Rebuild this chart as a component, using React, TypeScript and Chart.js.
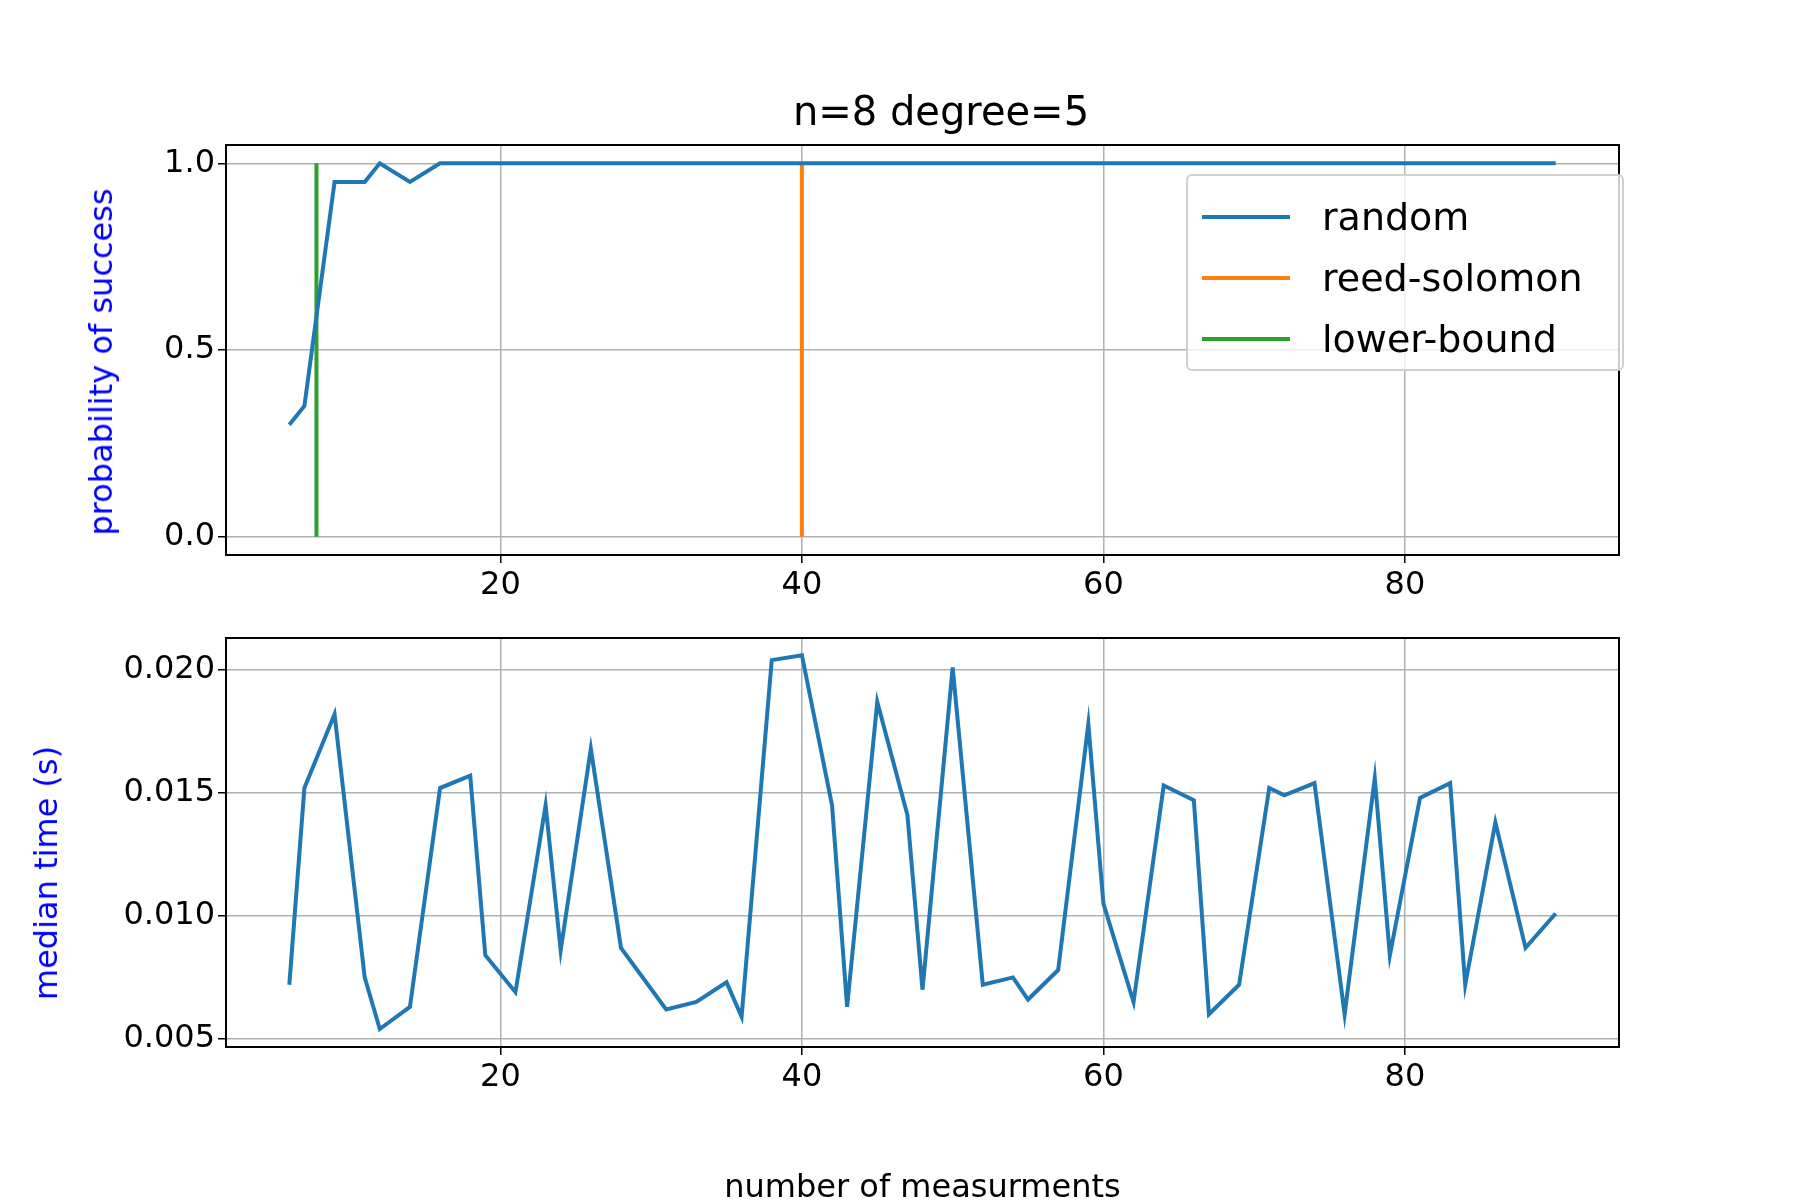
import { useEffect, useRef } from 'react'
import { Chart, registerables } from 'chart.js'

Chart.register(...registerables)

const measurements = [6, 7, 9, 11, 12, 14, 16, 18, 19, 21, 23, 24, 26, 28, 31, 33, 35, 36, 38, 40, 42, 43, 45, 47, 48, 50, 52, 54, 55, 57, 59, 60, 62, 64, 66, 67, 69, 71, 72, 74, 76, 78, 79, 81, 83, 84, 86, 88, 90]
const successProb = [0.3, 0.35, 0.95, 0.95, 1, 0.95, 1, 1, 1, 1, 1, 1, 1, 1, 1, 1, 1, 1, 1, 1, 1, 1, 1, 1, 1, 1, 1, 1, 1, 1, 1, 1, 1, 1, 1, 1, 1, 1, 1, 1, 1, 1, 1, 1, 1, 1, 1, 1, 1]
const medianTime = [0.0072, 0.0152, 0.0182, 0.0075, 0.0054, 0.0063, 0.0152, 0.0157, 0.0084, 0.0069, 0.0145, 0.0086, 0.0168, 0.0087, 0.0062, 0.0065, 0.0073, 0.0059, 0.0204, 0.0206, 0.0145, 0.0063, 0.0187, 0.0141, 0.007, 0.0201, 0.0072, 0.0075, 0.0066, 0.0078, 0.0178, 0.0105, 0.0065, 0.0153, 0.0147, 0.006, 0.0072, 0.0152, 0.0149, 0.0154, 0.006, 0.0156, 0.0084, 0.0148, 0.0154, 0.0072, 0.0138, 0.0087, 0.0101]
const reedSolomonX = 40
const lowerBoundX = 7.8
const xTicks = [20, 40, 60, 80]
const probTicks = [0, 0.5, 1]
const timeTicks = [0.005, 0.01, 0.015, 0.02]

const FONT = "'DejaVu Sans', sans-serif"
const BLUE = '#1f77b4'

const frame = {
  id: 'frame',
  afterDraw(chart: Chart) {
    const { ctx, chartArea: a } = chart
    ctx.save()
    ctx.strokeStyle = '#000'
    ctx.lineWidth = 2
    ctx.strokeRect(a.left, a.top, a.right - a.left, a.bottom - a.top)
    ctx.restore()
  },
}

function makeScales(yTicks: number[], yMin: number, yMax: number, yFmt: (v: number) => string, xTitle: string | null, xHeight: number) {
  return {
    x: {
      type: 'linear' as const,
      min: 1.8,
      max: 94.2,
      afterBuildTicks: (s: any) => { s.ticks = xTicks.map(v => ({ value: v })) },
      afterFit: (s: any) => { s.height = xHeight },
      grid: { color: '#b0b0b0', lineWidth: 1.5, tickColor: '#000', tickLength: 8 },
      border: { display: false },
      ticks: { color: '#000', font: { family: FONT, size: 32 }, maxRotation: 0 },
      title: { display: !!xTitle, text: xTitle || '', color: '#000', font: { family: FONT, size: 32 }, padding: { top: 0, bottom: 0 } },
    },
    y: {
      type: 'linear' as const,
      min: yMin,
      max: yMax,
      afterBuildTicks: (s: any) => { s.ticks = yTicks.map(v => ({ value: v })) },
      afterFit: (s: any) => { s.width = 218 },
      grid: { color: '#b0b0b0', lineWidth: 1.5, tickColor: '#000', tickLength: 8 },
      border: { display: false },
      ticks: { color: '#000', font: { family: FONT, size: 32 }, callback: (v: any) => yFmt(Number(v)) },
    },
  }
}

function TopChart() {
  const ref = useRef<HTMLCanvasElement>(null)
  useEffect(() => {
    if (!ref.current) return
    const chart = new Chart(ref.current, {
      type: 'line',
      data: {
        datasets: [
          { label: 'random', data: measurements.map((x, i) => ({ x, y: successProb[i] })), borderColor: BLUE, borderWidth: 4, pointRadius: 0 },
          { label: 'reed-solomon', data: [{ x: reedSolomonX, y: 0 }, { x: reedSolomonX, y: 1 }], borderColor: '#ff7f0e', borderWidth: 4, pointRadius: 0 },
          { label: 'lower-bound', data: [{ x: lowerBoundX, y: 0 }, { x: lowerBoundX, y: 1 }], borderColor: '#2ca02c', borderWidth: 4, pointRadius: 0 },
        ],
      },
      options: {
        animation: false,
        responsive: false,
        layout: { padding: { top: 137, right: 189, left: 0, bottom: 0 } },
        scales: makeScales(probTicks, -0.049, 1.049, v => v.toFixed(1), null, 93),
        plugins: { legend: { display: false }, tooltip: { enabled: false } },
      },
      plugins: [frame],
    })
    return () => chart.destroy()
  }, [])
  return <canvas ref={ref} width={1800} height={640} style={{ position: 'absolute', left: 0, top: 0 }} />
}

function BottomChart() {
  const ref = useRef<HTMLCanvasElement>(null)
  useEffect(() => {
    if (!ref.current) return
    const chart = new Chart(ref.current, {
      type: 'line',
      data: {
        datasets: [
          { label: 'random', data: measurements.map((x, i) => ({ x, y: medianTime[i] })), borderColor: BLUE, borderWidth: 4, pointRadius: 0 },
        ],
      },
      options: {
        animation: false,
        responsive: false,
        layout: { padding: { top: 30, right: 189, left: 0, bottom: 0 } },
        scales: makeScales(timeTicks, 0.00467, 0.0213, v => v.toFixed(3), 'number of measurments', 161),
        plugins: { legend: { display: false }, tooltip: { enabled: false } },
      },
      plugins: [frame],
    })
    return () => chart.destroy()
  }, [])
  return <canvas ref={ref} width={1800} height={600} style={{ position: 'absolute', left: 0, top: 600 }} />
}

const legendItems = [
  { label: 'random', color: BLUE },
  { label: 'reed-solomon', color: '#ff7f0e' },
  { label: 'lower-bound', color: '#2ca02c' },
]

function YTitle({ text, x, y }: { text: string; x: number; y: number }) {
  return (
    <div style={{ position: 'absolute', left: x, top: y, transform: 'translate(-50%, -50%) rotate(-90deg)', whiteSpace: 'nowrap', color: 'blue', fontSize: 32 }}>
      {text}
    </div>
  )
}

export default function App() {
  return (
    <div style={{ position: 'relative', width: 1800, height: 1200, background: '#fff', fontFamily: FONT }}>
      <TopChart />
      <BottomChart />
      <div style={{ position: 'absolute', left: 933, top: 80, transform: 'translateX(-50%)', whiteSpace: 'nowrap', fontSize: 40 }}>n=8 degree=5</div>
      <YTitle text="probability of success" x={93} y={354} />
      <YTitle text="median time (s)" x={38} y={865} />
      <div style={{ position: 'absolute', left: 1178, top: 166, width: 438, height: 197, border: '2px solid #d0d0d0', borderRadius: 6, background: 'rgba(255,255,255,0.8)', boxSizing: 'border-box', padding: '10px 14px' }}>
        {legendItems.map(it => (
          <div key={it.label} style={{ display: 'flex', alignItems: 'center', height: 61, fontSize: 38 }}>
            <span style={{ display: 'inline-block', width: 88, height: 4, background: it.color, marginRight: 32 }} />
            {it.label}
          </div>
        ))}
      </div>
    </div>
  )
}
